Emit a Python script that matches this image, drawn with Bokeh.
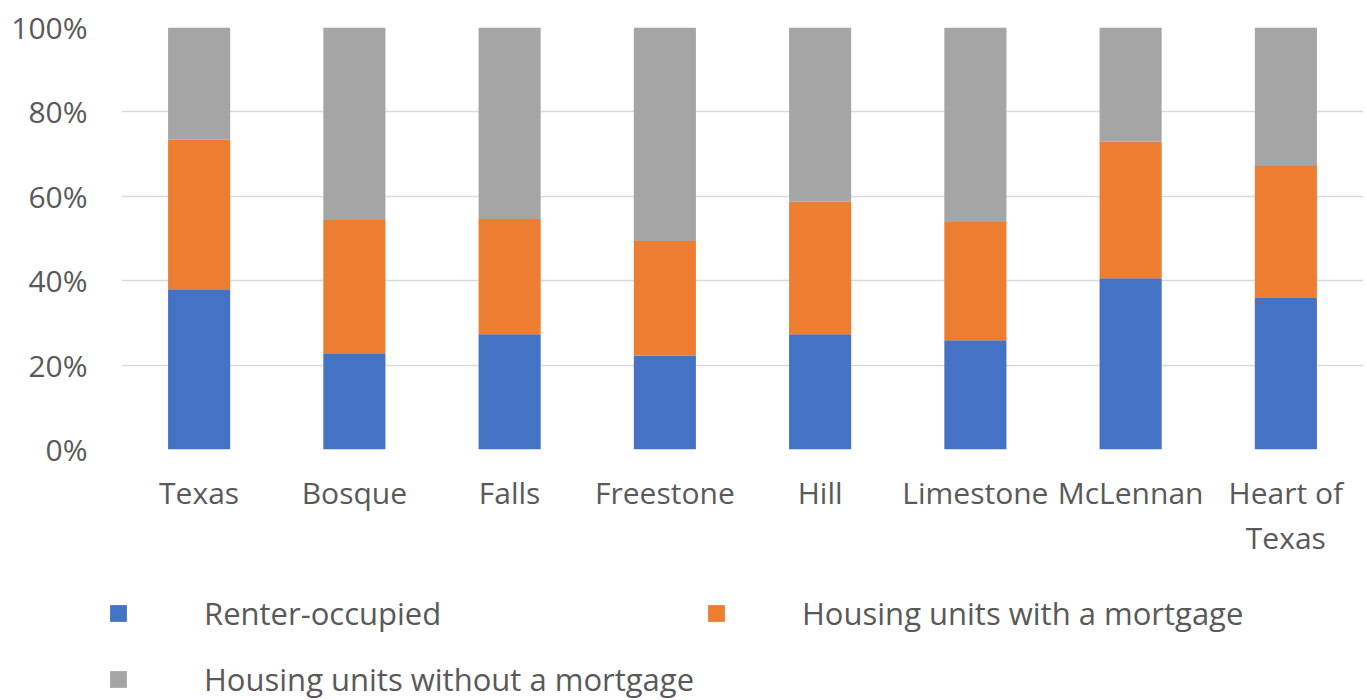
from bokeh.plotting import figure
from bokeh.layouts import column, row
from bokeh.models import (FactorRange, Range1d, FixedTicker, NumeralTickFormatter,
                          Legend, LegendItem)
from bokeh.embed import file_html
from bokeh.resources import INLINE

categories = ["Texas", "Bosque", "Falls", "Freestone", "Hill", "Limestone", "McLennan", "Heart of\nTexas"]
renter = [0.380, 0.228, 0.273, 0.223, 0.273, 0.259, 0.406, 0.359]
with_mortgage = [0.354, 0.316, 0.273, 0.271, 0.314, 0.280, 0.323, 0.313]
without_mortgage = [round(1 - r - m, 3) for r, m in zip(renter, with_mortgage)]
series = ["Renter-occupied", "Housing units with a mortgage", "Housing units without a mortgage"]
colors = ["#4472C4", "#ED7D31", "#A5A5A5"]
y_ticks = [0, 0.2, 0.4, 0.6, 0.8, 1.0]

FONT = "Open Sans"
FS = "30px"
LFS = "31px"
TEXT = "#595959"

data = {"cat": categories, "r": renter, "m": with_mortgage, "w": without_mortgage}

p = figure(x_range=FactorRange(*categories), y_range=Range1d(0, 1),
           width=1367, height=564, output_backend="svg", toolbar_location=None,
           min_border_left=121, min_border_right=4, min_border_top=27, min_border_bottom=115)
p.outline_line_color = None

rs = p.vbar_stack(["r", "m", "w"], x="cat", width=0.4, color=colors, source=data, line_width=0)

p.xgrid.grid_line_color = None
p.ygrid.grid_line_color = "#D9D9D9"
p.ygrid.grid_line_width = 1.5
p.yaxis.ticker = FixedTicker(ticks=y_ticks)
p.yaxis.formatter = NumeralTickFormatter(format="0%")

for ax in (p.xaxis[0], p.yaxis[0]):
    ax.axis_line_color = None
    ax.major_tick_line_color = None
    ax.minor_tick_line_color = None
    ax.major_label_text_font = FONT
    ax.major_label_text_font_size = FS
    ax.major_label_text_color = TEXT
p.yaxis.major_label_standoff = 28
p.xaxis.major_label_standoff = 16
p.xaxis.major_label_text_line_height = 1.1

# legend in its own strip below the chart
lf = figure(width=1367, height=136, output_backend="svg", toolbar_location=None,
            x_range=Range1d(0, 1), y_range=Range1d(0, 1),
            x_axis_location=None, y_axis_location=None,
            min_border_left=0, min_border_right=0, min_border_top=0, min_border_bottom=0)
lf.outline_line_color = None
lf.grid.visible = False
nan = float("nan")
lrs = [lf.scatter("x", "y", source={"x": [nan], "y": [nan]}, marker="square",
                  fill_color=c, line_alpha=0)
       for c in colors]

common = dict(glyph_width=42, glyph_height=42, label_height=42, label_standoff=65,
              padding=0, margin=0, border_line_color=None, background_fill_alpha=0,
              label_text_font=FONT, label_text_font_size=LFS, label_text_color=TEXT)
leg_a = Legend(items=[LegendItem(label=series[0], renderers=[lrs[0]]),
                      LegendItem(label=series[2], renderers=[lrs[2]])],
               location=(97, 0), orientation="vertical", spacing=24, **common)
leg_b = Legend(items=[LegendItem(label=series[1], renderers=[lrs[1]])],
               location=(695, 66), orientation="vertical", spacing=24, **common)
lf.add_layout(leg_a, "center")
lf.add_layout(leg_b, "center")

layout = column(p, row(lf, spacing=0), spacing=0)
open("out.html", "w").write(file_html(layout, INLINE))
